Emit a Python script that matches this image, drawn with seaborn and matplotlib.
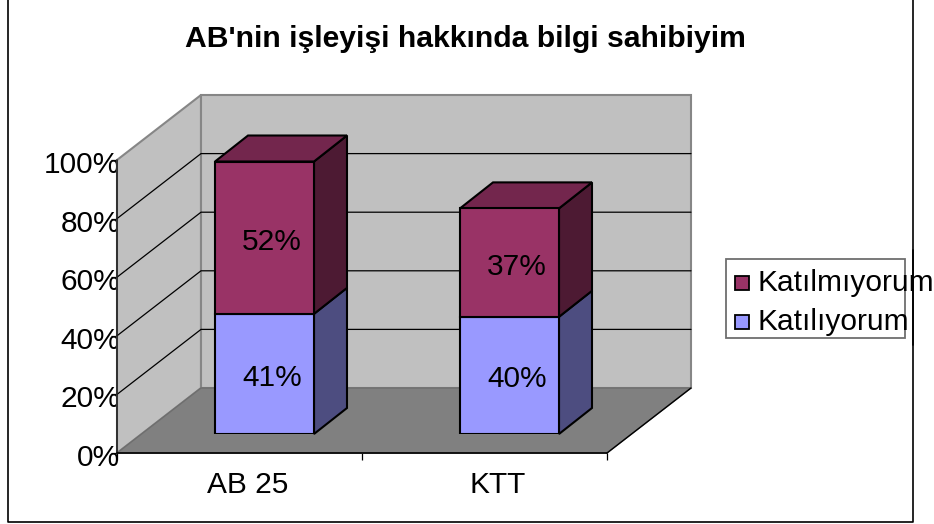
import numpy as np
import pandas as pd
import matplotlib
matplotlib.use("Agg")
import matplotlib.pyplot as plt
from matplotlib.lines import Line2D
from matplotlib.patches import Polygon, Rectangle
from matplotlib.transforms import ScaledTranslation
import seaborn as sns

# --- Data ---
categories = ['AB 25', 'KTT']
agree_values = [0.41, 0.40]
disagree_values = [0.52, 0.37]
agree_label = 'Katılıyorum'
disagree_label = 'Katılmıyorum'
title_text = "AB'nin işleyişi hakkında bilgi sahibiyim"
y_ticks = [0, 0.2, 0.4, 0.6, 0.8, 1.0]

# --- Layout, in pixels of the 934x524 picture ---
W, H = 934, 524
PLOT_LEFT, PLOT_RIGHT, PLOT_BOTTOM, PLOT_TOP = 117, 607, 453, 160
WALL_DX, WALL_DY = 84, 65
BAR_SHIFT_X, BAR_SHIFT_Y = 25, 19
BAR_DX, BAR_DY = 33, 26
FONT_SIZE = 21.5

sns.set_theme(style='white')
plt.rcParams['font.family'] = ['Liberation Sans', 'DejaVu Sans']


def axes_rect(left, right, bottom, top):
    return [left / W, 1 - bottom / H, (right - left) / W, (bottom - top) / H]


def shade(color, factor):
    rgb = np.array(matplotlib.colors.to_rgb(color))
    return tuple(rgb * factor)


def px_shift(dx, dy):
    # dx to the right, dy downwards, in picture pixels
    return ScaledTranslation(dx / 100, -dy / 100, fig.dpi_scale_trans)


fig = plt.figure(figsize=(W / 100, H / 100), dpi=100, facecolor='white')

# Chart frame: the top side falls outside the picture
fig.add_artist(Line2D([7.5 / W, 7.5 / W, 912.5 / W, 912.5 / W], [1, 1 - 521.5 / H, 1 - 521.5 / H, 1],
                      transform=fig.transFigure, color='black', lw=1.2))

ax = fig.add_axes(axes_rect(PLOT_LEFT, PLOT_RIGHT, PLOT_BOTTOM, PLOT_TOP))
ax.set_xlim(-0.5, 1.5)
ax.set_ylim(0, 1)
ax.patch.set_visible(False)

x_per_px = 2 / (PLOT_RIGHT - PLOT_LEFT)
y_per_px = 1 / (PLOT_BOTTOM - PLOT_TOP)
wall_dx = WALL_DX * x_per_px
wall_dy = WALL_DY * y_per_px
x0, x1 = -0.5, 1.5

# Walls and floor
GREY_LINE = '#868686'
ax.add_patch(Polygon([(x0, 0), (x0, 1), (x0 + wall_dx, 1 + wall_dy), (x0 + wall_dx, wall_dy)],
                     facecolor='#c0c0c0', edgecolor=GREY_LINE, lw=1.5, clip_on=False, zorder=1))
ax.add_patch(Polygon([(x0 + wall_dx, wall_dy), (x0 + wall_dx, 1 + wall_dy),
                      (x1 + wall_dx, 1 + wall_dy), (x1 + wall_dx, wall_dy)],
                     facecolor='#c0c0c0', edgecolor=GREY_LINE, lw=1.5, clip_on=False, zorder=1))
ax.add_patch(Polygon([(x0, 0), (x1, 0), (x1 + wall_dx, wall_dy), (x0 + wall_dx, wall_dy)],
                     facecolor='#808080', edgecolor='#6e6e6e', lw=1, clip_on=False, zorder=1.5))
ax.plot([x1, x1 + wall_dx], [0, wall_dy], color='black', lw=1, clip_on=False, zorder=2)

# Gridlines run up the side wall and along the back wall, the top edge stays grey
for t in y_ticks[1:-1]:
    ax.plot([x0, x0 + wall_dx, x1 + wall_dx], [t, t + wall_dy, t + wall_dy],
            color='black', lw=0.9, clip_on=False, zorder=2)

ax.plot([x0, x0], [0, 1], color='#222222', lw=1.2, clip_on=False, zorder=2)
ax.plot([x0, x1], [0, 0], color='black', lw=1.2, clip_on=False, zorder=2)

ax.set_xticks([-0.5, 0.5, 1.5], minor=False)
ax.set_xticklabels([])
ax.set_xticks([0, 1], minor=True)
ax.set_xticklabels(categories, minor=True, fontsize=FONT_SIZE, color='black')
ax.set_yticks(y_ticks)
ax.set_yticklabels([f'{int(t * 100)}%' for t in y_ticks], fontsize=FONT_SIZE, color='black')
ax.tick_params(axis='x', which='major', direction='out', length=5, width=0.9, color='black', bottom=True)
ax.tick_params(axis='x', which='minor', length=0, pad=13, bottom=False)
ax.tick_params(axis='y', direction='out', length=4, width=0.9, color='black', left=True, pad=-6.5)
for label, dx in zip(ax.get_xticklabels(minor=True), [8, 13]):
    label.set_transform(label.get_transform() + px_shift(dx, 0))
for label in ax.get_yticklabels():
    label.set_transform(label.get_transform() + px_shift(0, 2))
sns.despine(ax=ax, left=True, bottom=True)
ax.set_xlabel('')
ax.set_ylabel('')

# Bars sit part way into the depth, so they get their own shifted axes
ax_bars = fig.add_axes(axes_rect(PLOT_LEFT + BAR_SHIFT_X, PLOT_RIGHT + BAR_SHIFT_X,
                                 PLOT_BOTTOM - BAR_SHIFT_Y, PLOT_TOP - BAR_SHIFT_Y))
ax_bars.patch.set_visible(False)
ax_bars.axis('off')

AGREE_COLOR = '#9999ff'
DISAGREE_COLOR = '#993366'
table = pd.DataFrame({'category': categories, 'agree': agree_values, 'disagree': disagree_values})
sns.barplot(data=table, x='category', y='agree', color=AGREE_COLOR, saturation=1, width=0.404,
            edgecolor='black', linewidth=1.5, ax=ax_bars, zorder=4)
sns.barplot(data=table, x='category', y='disagree', bottom=table['agree'], color=DISAGREE_COLOR,
            saturation=1, width=0.404, edgecolor='black', linewidth=1.5, ax=ax_bars, zorder=4)
ax_bars.set_xlim(-0.5, 1.5)
ax_bars.set_ylim(0, 1)

bar_dx = BAR_DX * x_per_px
bar_dy = BAR_DY * y_per_px
n = len(categories)
for i, bar in enumerate(list(ax_bars.patches)):
    left, right = bar.get_x(), bar.get_x() + bar.get_width()
    low, high = bar.get_y(), bar.get_y() + bar.get_height()
    base = AGREE_COLOR if i < n else DISAGREE_COLOR
    ax_bars.add_patch(Polygon([(right, low), (right + bar_dx, low + bar_dy),
                               (right + bar_dx, high + bar_dy), (right, high)],
                              facecolor=shade(base, 0.5), edgecolor='black', lw=1.5,
                              clip_on=False, zorder=3))
    if i >= n:
        ax_bars.add_patch(Polygon([(left, high), (left + bar_dx, high + bar_dy),
                                   (right + bar_dx, high + bar_dy), (right, high)],
                                  facecolor=shade(base, 0.75), edgecolor='black', lw=1.5,
                                  clip_on=False, zorder=3))
    ax_bars.text((left + right) / 2 + 0.03, (low + high) / 2, f'{round(bar.get_height() * 100)}%',
                 ha='center', va='center', fontsize=FONT_SIZE, color='black', zorder=6,
                 transform=ax_bars.transData + px_shift(0, 4))

fig.text(465 / W, 1 - 39 / H, title_text, ha='center', va='center', fontsize=21.7,
         fontweight='bold', color='black')

# Legend box, text runs past the box as in the source
fig.add_artist(Rectangle((726 / W, 1 - 338 / H), 179 / W, 79 / H, transform=fig.transFigure,
                         facecolor='white', edgecolor='#6e6e6e', lw=1.3, zorder=5))
fig.add_artist(Line2D([912.5 / W, 912.5 / W], [1 - 345 / H, 1 - 250 / H], transform=fig.transFigure,
                      color='black', lw=1.2, zorder=5.5))
for label, color, y in [(disagree_label, DISAGREE_COLOR, 283), (agree_label, AGREE_COLOR, 322)]:
    fig.add_artist(Rectangle((735 / W, 1 - (y + 7) / H), 14 / W, 14 / H, transform=fig.transFigure,
                             facecolor=color, edgecolor='black', lw=1.3, zorder=6))
    fig.text(757 / W, 1 - y / H, label, ha='left', va='center', fontsize=FONT_SIZE, color='black', zorder=7)

fig.savefig('out.png', dpi=100)
